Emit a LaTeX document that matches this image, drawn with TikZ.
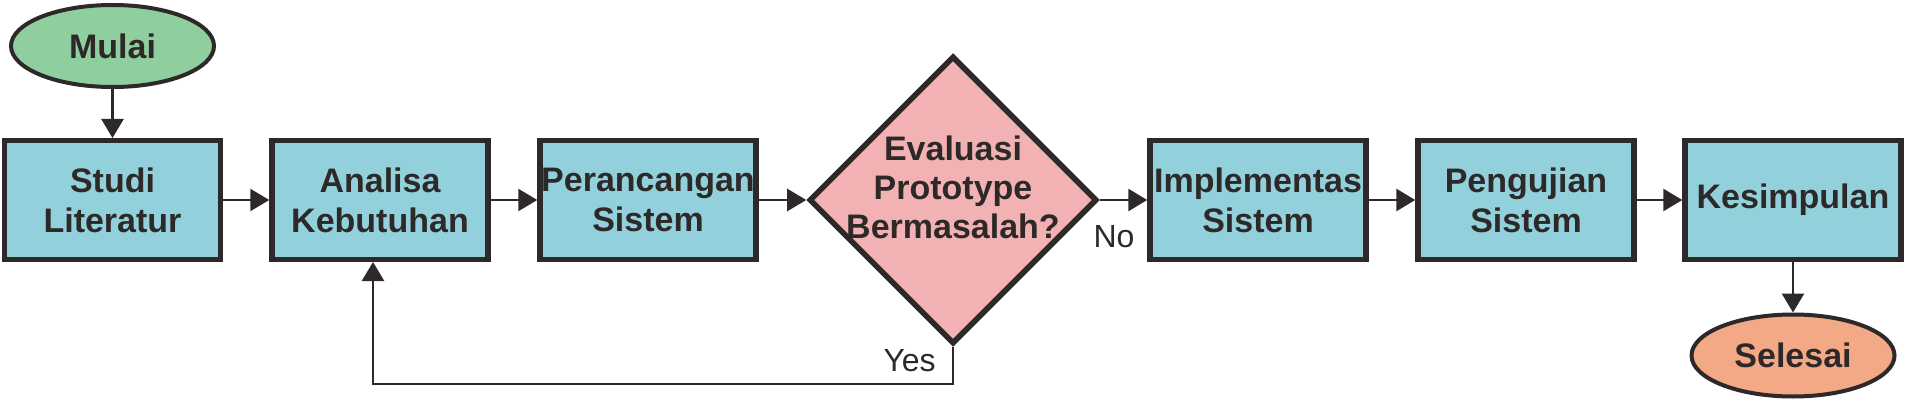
\documentclass[tikz,border=0pt]{standalone}
\usepackage{fontspec}
\setmainfont{Liberation Sans}
\usetikzlibrary{shapes.geometric,arrows.meta}
\definecolor{ink}{RGB}{46,41,41}
\definecolor{boxfill}{RGB}{146,209,220}
\definecolor{decfill}{RGB}{242,177,178}
\definecolor{startfill}{RGB}{143,206,158}
\definecolor{endfill}{RGB}{243,168,134}
\begin{document}
\begin{tikzpicture}[x=0.5pt,y=-0.5pt,
  proc/.style={rectangle, draw=ink, line width=2.75pt, fill=boxfill,
    minimum width=108pt, minimum height=59.25pt, inner sep=0pt, align=center,
    font=\bfseries\fontsize{17}{20}\selectfont, text=ink},
  term/.style={ellipse, draw=ink, line width=2pt, minimum width=101.5pt,
    minimum height=41pt, inner sep=0pt, font=\bfseries\fontsize{17}{20}\selectfont, text=ink},
  dec/.style={diamond, draw=ink, line width=2.75pt, fill=decfill,
    minimum width=144pt, minimum height=144pt, inner sep=0pt},
  dectext/.style={align=center, font=\bfseries\fontsize{17}{19.5}\selectfont,
    text=ink, yshift=6.25pt, inner sep=0pt},
  arr/.style={draw=ink, line width=1.3pt, -{Triangle[length=9.5pt,width=11pt]}},
  lbl/.style={font=\fontsize{16}{18}\selectfont, text=ink, inner sep=0pt}]
\useasboundingbox (0,0) rectangle (1906,401);

\node[term, fill=startfill] (start) at (112.5,46) {Mulai};
\node[proc] (s1) at (112.5,200) {Studi\\Literatur};
\node[proc] (s2) at (380,200) {Analisa\\Kebutuhan};
\node[proc] (s3) at (648,200) {Perancangan\\Sistem};
\node[dec, label={[dectext]center:Evaluasi\\Prototype\\Bermasalah?}] (d) at (953,200) {};
\node[proc] (s4) at (1258,200) {Implementas\\Sistem};
\node[proc] (s5) at (1526,200) {Pengujian\\Sistem};
\node[proc] (s6) at (1793,200) {Kesimpulan};
\node[term, fill=endfill] (stop) at (1793,355.5) {Selesai};

\coordinate (loop) at (373,384);

\draw[arr] (start) -- (s1);
\draw[arr] (s1) -- (s2);
\draw[arr] (s2) -- (s3);
\draw[arr] (s3) -- (d);
\draw[arr] (d.east) -- node[lbl, pos=0.3, below=12pt] (no) {No} (s4.west);
\draw[arr] (s4) -- (s5);
\draw[arr] (s5) -- (s6);
\draw[arr] (s6) -- (stop);
\draw[arr] (d.south) |- node[lbl, pos=0.18, left=8pt] (yes) {Yes} (loop) -- (loop |- s2.south);
\end{tikzpicture}
\end{document}
